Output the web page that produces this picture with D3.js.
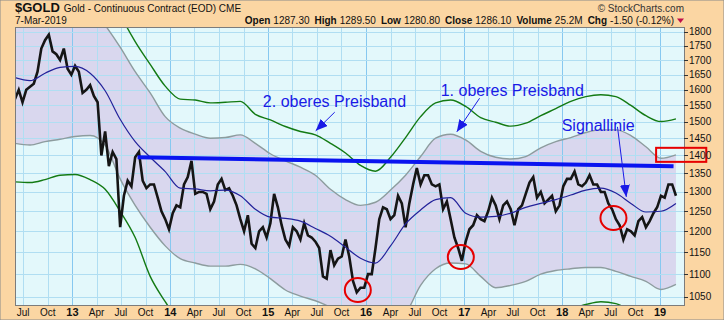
<!DOCTYPE html>
<html>
<head>
<meta charset="utf-8">
<script src="https://cdn.jsdelivr.net/npm/d3@7"></script>
<style>
	body { margin: 0; background: #fff; }
	svg { display: block; font-family: "Liberation Sans", Arial, sans-serif; }
</style>
</head>
<body>
<svg id="chart" width="724" height="320"></svg>
<script>
// ---- data ----
var startDate = '2012-06-01';
var priceStepDays = 14;
var price = [
	1570, 1600, 1560, 1600, 1610, 1620, 1660, 1740, 1770, 1790,
	1730, 1720, 1700, 1740, 1670, 1650, 1680, 1660, 1590, 1600,
	1615, 1580, 1560, 1400, 1470, 1370, 1410, 1390, 1210, 1290,
	1330, 1315, 1395, 1410, 1330, 1310, 1320, 1320, 1285, 1250,
	1230, 1205, 1245, 1265, 1260, 1320, 1340, 1385, 1295, 1300,
	1300, 1295, 1255, 1275, 1320, 1335, 1305, 1310, 1290, 1265,
	1230, 1200, 1240, 1170, 1160, 1200, 1210, 1185, 1220, 1295,
	1260, 1215, 1180, 1165, 1210, 1200, 1180, 1220, 1190, 1185,
	1175, 1160, 1095, 1090, 1155, 1120, 1135, 1140, 1180, 1140,
	1085, 1060, 1070, 1070, 1100, 1100, 1160, 1230, 1260, 1255,
	1230, 1240, 1290, 1270, 1210, 1270, 1320, 1365, 1320, 1345,
	1345, 1320, 1315, 1320, 1255, 1275, 1230, 1185, 1160, 1130,
	1175, 1205, 1215, 1240, 1230, 1225, 1250, 1285, 1265, 1230,
	1265, 1275, 1255, 1215, 1255, 1265, 1295, 1325, 1340, 1285,
	1300, 1270, 1280, 1290, 1250, 1265, 1315, 1335, 1335, 1355,
	1320, 1315, 1325, 1345, 1320, 1320, 1300, 1300, 1270, 1255,
	1230, 1215, 1180, 1205, 1200, 1190, 1225, 1235, 1210, 1225,
	1245, 1260, 1290, 1285, 1320, 1320, 1290
];

var bandStepDays = 56;
var signal = [
	1640, 1630, 1655, 1675, 1678, 1655, 1597, 1507, 1440, 1395,
	1355, 1310, 1308, 1303, 1305, 1290, 1255, 1235, 1232, 1225,
	1207, 1188, 1162, 1136, 1125, 1165, 1218, 1253, 1280, 1285,
	1245, 1235, 1237, 1245, 1260, 1270, 1280, 1292, 1305, 1310,
	1297, 1270, 1248, 1250, 1270
];
var band1Upper = [
	1880, 1890, 1910, 1930, 1920, 1900, 1825, 1745, 1660, 1590,
	1515, 1480, 1462, 1450, 1452, 1460, 1435, 1405, 1385, 1367,
	1345, 1307, 1280, 1265, 1273, 1305, 1345, 1397, 1450, 1462,
	1445, 1412, 1395, 1390, 1397, 1422, 1440, 1452, 1467, 1475,
	1475, 1458, 1425, 1392, 1402
];
var band1Lower = [
	1435, 1430, 1440, 1447, 1455, 1458, 1430, 1335, 1265, 1210,
	1165, 1135, 1125, 1118, 1118, 1122, 1112, 1090, 1065, 1052,
	1042, 1028, 1008, 995, 990, 995, 1015, 1075, 1112, 1125,
	1123, 1095, 1070, 1075, 1084, 1100, 1108, 1112, 1115, 1115,
	1106, 1095, 1084, 1066, 1077
];
var band2Upper = [
	2050, 2060, 2080, 2100, 2090, 2050, 1990, 1865, 1765, 1685,
	1612, 1570, 1567, 1558, 1560, 1563, 1522, 1505, 1485, 1470,
	1460, 1435, 1407, 1372, 1356, 1395, 1452, 1515, 1558, 1567,
	1547, 1512, 1498, 1486, 1495, 1518, 1540, 1563, 1578, 1584,
	1578, 1550, 1518, 1500, 1508
];
var band2Lower = [
	1327, 1325, 1333, 1345, 1347, 1333, 1307, 1250, 1185, 1095,
	1040, 995, 960, 950, 950, 950, 940, 920, 900, 890,
	880, 870, 860, 850, 850, 870, 900, 940, 970, 985,
	980, 960, 950, 960, 980, 1000, 1015, 1025, 1034, 1040,
	1036, 1020, 1000, 985, 990
];

var yTicks = [1050, 1100, 1150, 1200, 1250, 1300, 1350, 1400, 1450, 1500, 1550, 1600, 1650, 1700, 1750, 1800];

var resistance = [ [ '2013-09-01', 1395 ], [ '2019-02-20', 1370 ] ];
var lowCircles = [ [ '2015-12-01', 1065 ], [ '2016-12-19', 1139 ], [ '2018-07-11', 1233 ] ];
var labels = [
	{ text: '2. oberes Preisband', date: '2014-12-12', value: 1545 },
	{ text: '1. oberes Preisband', date: '2016-10-05', value: 1580 },
	{ text: 'Signallinie', date: '2017-12-30', value: 1470 }
];
var arrows = [
	[ [ '2015-09-06', 1529 ], [ '2015-06-27', 1472 ] ],
	[ [ '2017-02-27', 1573 ], [ '2016-12-04', 1469 ] ],
	[ [ '2018-07-26', 1484 ], [ '2018-08-28', 1287 ] ]
];
var markBox = [ [ '2018-12-17', 1422 ], [ '2019-06-22', 1382 ] ];

var quote = [
	[ 'Open', '1287.30' ], [ 'High', '1289.50' ], [ 'Low', '1280.80' ],
	[ 'Close', '1286.10' ], [ 'Volume', '25.2M' ], [ 'Chg', '-1.50 (-0.12%)' ]
];

// ---- layout ----
var W = 724, H = 320;
var plot = { left: 15, right: 684, top: 27, bottom: 305 };

var parse = d3.utcParse( '%Y-%m-%d' );
var t0 = parse( startDate );

var x = d3.scaleUtc()
	.domain( [ t0, parse( '2019-03-31' ) ] )
	.range( [ plot.left, plot.right ] );

var y = d3.scaleLog()
	.domain( [ 1033, 1818 ] )
	.range( [ plot.bottom, plot.top ] );

function priceDate( i ) { return d3.utcDay.offset( t0, i * priceStepDays ); }
function bandDate( i ) { return d3.utcDay.offset( t0, i * bandStepDays ); }

var svg = d3.select( '#chart' );

svg.append( 'rect' )
	.attr( 'width', W ).attr( 'height', H )
	.attr( 'fill', '#fbd6a3' )
	.attr( 'stroke', '#8a8a8a' );

var defs = svg.append( 'defs' );
defs.append( 'clipPath' ).attr( 'id', 'clip' )
	.append( 'rect' )
	.attr( 'x', plot.left ).attr( 'y', plot.top )
	.attr( 'width', plot.right - plot.left ).attr( 'height', plot.bottom - plot.top );

defs.append( 'marker' )
	.attr( 'id', 'head' )
	.attr( 'viewBox', '0 0 12 10' )
	.attr( 'refX', 12 ).attr( 'refY', 5 )
	.attr( 'markerWidth', 12 ).attr( 'markerHeight', 10 )
	.attr( 'markerUnits', 'userSpaceOnUse' )
	.attr( 'orient', 'auto' )
	.append( 'path' )
	.attr( 'd', 'M0,0L12,5L0,10Z' )
	.attr( 'fill', '#1a1ae6' );

svg.append( 'rect' )
	.attr( 'x', plot.left ).attr( 'y', plot.top )
	.attr( 'width', plot.right - plot.left ).attr( 'height', plot.bottom - plot.top )
	.attr( 'fill', '#e3f8fb' );

var g = svg.append( 'g' ).attr( 'clip-path', 'url(#clip)' );

// shaded inner band
var bandArea = d3.area()
	.x( function ( d, i ) { return x( bandDate( i ) ); } )
	.y0( function ( d, i ) { return y( band1Lower[i] ); } )
	.y1( function ( d, i ) { return y( d ); } )
	.curve( d3.curveMonotoneX );

g.append( 'path' )
	.attr( 'd', bandArea( band1Upper ) )
	.attr( 'fill', '#d9d7ee' );

// grid
var quarters = d3.utcMonth.every( 3 ).range( x.domain()[0], x.domain()[1] );
g.selectAll( 'line.vgrid' )
	.data( quarters )
	.enter()
	.append( 'line' )
	.attr( 'x1', function ( d ) { return Math.round( x( d ) ) + 0.5; } )
	.attr( 'x2', function ( d ) { return Math.round( x( d ) ) + 0.5; } )
	.attr( 'y1', plot.top ).attr( 'y2', plot.bottom )
	.attr( 'stroke', function ( d ) { return d.getUTCMonth() === 0 ? '#86c8f0' : '#b0def2'; } );

g.selectAll( 'line.hgrid' )
	.data( yTicks )
	.enter()
	.append( 'line' )
	.attr( 'x1', plot.left ).attr( 'x2', plot.right )
	.attr( 'y1', function ( d ) { return Math.round( y( d ) ) + 0.5; } )
	.attr( 'y2', function ( d ) { return Math.round( y( d ) ) + 0.5; } )
	.attr( 'stroke', '#b0def2' );

// band lines
var bandLine = d3.line()
	.x( function ( d, i ) { return x( bandDate( i ) ); } )
	.y( function ( d ) { return y( d ); } )
	.curve( d3.curveMonotoneX );

[ [ band1Upper, '#8d9c9e' ], [ band1Lower, '#8d9c9e' ], [ band2Upper, '#137a13' ], [ band2Lower, '#137a13' ] ]
	.forEach( function ( b ) {
		g.append( 'path' )
			.attr( 'd', bandLine( b[0] ) )
			.attr( 'fill', 'none' )
			.attr( 'stroke', b[1] )
			.attr( 'stroke-width', 1.4 );
	} );

// price
var priceLine = d3.line()
	.x( function ( d, i ) { return x( priceDate( i ) ); } )
	.y( function ( d ) { return y( d ); } );

g.append( 'path' )
	.attr( 'd', priceLine( price ) )
	.attr( 'fill', 'none' )
	.attr( 'stroke', '#151515' )
	.attr( 'stroke-width', 2.6 )
	.attr( 'stroke-linejoin', 'miter' );

// signal line
g.append( 'path' )
	.attr( 'd', bandLine( signal ) )
	.attr( 'fill', 'none' )
	.attr( 'stroke', '#22229a' )
	.attr( 'stroke-width', 1.2 );

// resistance line
g.append( 'line' )
	.attr( 'x1', x( parse( resistance[0][0] ) ) ).attr( 'y1', y( resistance[0][1] ) )
	.attr( 'x2', x( parse( resistance[1][0] ) ) ).attr( 'y2', y( resistance[1][1] ) )
	.attr( 'stroke', '#0a14f0' )
	.attr( 'stroke-width', 4 );

// circles
g.selectAll( 'ellipse' )
	.data( lowCircles )
	.enter()
	.append( 'ellipse' )
	.attr( 'cx', function ( d ) { return x( parse( d[0] ) ); } )
	.attr( 'cy', function ( d ) { return y( d[1] ); } )
	.attr( 'rx', 13 ).attr( 'ry', 12 )
	.attr( 'fill', 'none' )
	.attr( 'stroke', '#e60000' )
	.attr( 'stroke-width', 2 );

// plot frame
svg.append( 'rect' )
	.attr( 'x', plot.left + 0.5 ).attr( 'y', plot.top + 0.5 )
	.attr( 'width', plot.right - plot.left ).attr( 'height', plot.bottom - plot.top )
	.attr( 'fill', 'none' )
	.attr( 'stroke', '#7c7c7c' );

// annotations
svg.selectAll( 'text.note' )
	.data( labels )
	.enter()
	.append( 'text' )
	.attr( 'x', function ( d ) { return x( parse( d.date ) ); } )
	.attr( 'y', function ( d ) { return y( d.value ); } )
	.attr( 'font-size', 16 )
	.attr( 'fill', '#1a1ae6' )
	.text( function ( d ) { return d.text; } );

arrows.forEach( function ( a ) {
	svg.append( 'line' )
		.attr( 'x1', x( parse( a[0][0] ) ) ).attr( 'y1', y( a[0][1] ) )
		.attr( 'x2', x( parse( a[1][0] ) ) ).attr( 'y2', y( a[1][1] ) )
		.attr( 'stroke', '#1a1ae6' )
		.attr( 'stroke-width', 1 )
		.attr( 'marker-end', 'url(#head)' );
} );

svg.append( 'rect' )
	.attr( 'x', x( parse( markBox[0][0] ) ) ).attr( 'y', y( markBox[0][1] ) )
	.attr( 'width', x( parse( markBox[1][0] ) ) - x( parse( markBox[0][0] ) ) )
	.attr( 'height', y( markBox[1][1] ) - y( markBox[0][1] ) )
	.attr( 'fill', 'none' )
	.attr( 'stroke', '#e60000' )
	.attr( 'stroke-width', 2 );

// y axis (right)
var yAxis = svg.append( 'g' );
yAxis.selectAll( 'line' )
	.data( yTicks )
	.enter()
	.append( 'line' )
	.attr( 'x1', plot.right ).attr( 'x2', plot.right + 4 )
	.attr( 'y1', function ( d ) { return Math.round( y( d ) ) + 0.5; } )
	.attr( 'y2', function ( d ) { return Math.round( y( d ) ) + 0.5; } )
	.attr( 'stroke', '#333' );
yAxis.selectAll( 'text' )
	.data( yTicks )
	.enter()
	.append( 'text' )
	.attr( 'x', plot.right + 5 )
	.attr( 'y', function ( d ) { return y( d ) + 3.5; } )
	.attr( 'font-size', 10 )
	.attr( 'fill', '#111' )
	.text( function ( d ) { return d; } );

// x axis labels
var fmtMonth = d3.utcFormat( '%b' ), fmtYear = d3.utcFormat( '%y' );
svg.selectAll( 'text.xl' )
	.data( quarters )
	.enter()
	.append( 'text' )
	.attr( 'x', function ( d ) { return x( d ); } )
	.attr( 'y', 316 )
	.attr( 'text-anchor', 'middle' )
	.attr( 'font-size', function ( d ) { return d.getUTCMonth() === 0 ? 11 : 10; } )
	.attr( 'font-weight', function ( d ) { return d.getUTCMonth() === 0 ? 'bold' : 'normal'; } )
	.attr( 'fill', '#111' )
	.text( function ( d ) { return d.getUTCMonth() === 0 ? fmtYear( d ) : fmtMonth( d ); } );

// header
var head = svg.append( 'text' ).attr( 'x', 15 ).attr( 'y', 12 ).attr( 'fill', '#111' );
head.append( 'tspan' ).attr( 'font-size', 13 ).attr( 'font-weight', 'bold' ).text( '$GOLD' );
head.append( 'tspan' ).attr( 'font-size', 10 ).attr( 'dx', 4 ).text( 'Gold - Continuous Contract (EOD) CME' );

svg.append( 'text' )
	.attr( 'x', plot.right ).attr( 'y', 12 )
	.attr( 'text-anchor', 'end' )
	.attr( 'font-size', 10 ).attr( 'fill', '#333' )
	.text( '\u00a9 StockCharts.com' );

svg.append( 'text' )
	.attr( 'x', 15 ).attr( 'y', 24 )
	.attr( 'font-size', 10 ).attr( 'fill', '#111' )
	.text( '7-Mar-2019' );

var q = svg.append( 'text' )
	.attr( 'x', 674 ).attr( 'y', 24 )
	.attr( 'text-anchor', 'end' )
	.attr( 'font-size', 10 ).attr( 'fill', '#111' );
quote.forEach( function ( d, i ) {
	q.append( 'tspan' ).attr( 'font-weight', 'bold' ).attr( 'dx', i ? 5 : 0 ).text( d[0] );
	q.append( 'tspan' ).attr( 'dx', 3 ).text( d[1] );
} );
svg.append( 'path' )
	.attr( 'd', 'M677,18.5L684,18.5L680.5,23Z' )
	.attr( 'fill', '#c0104a' );
</script>
</body>
</html>
